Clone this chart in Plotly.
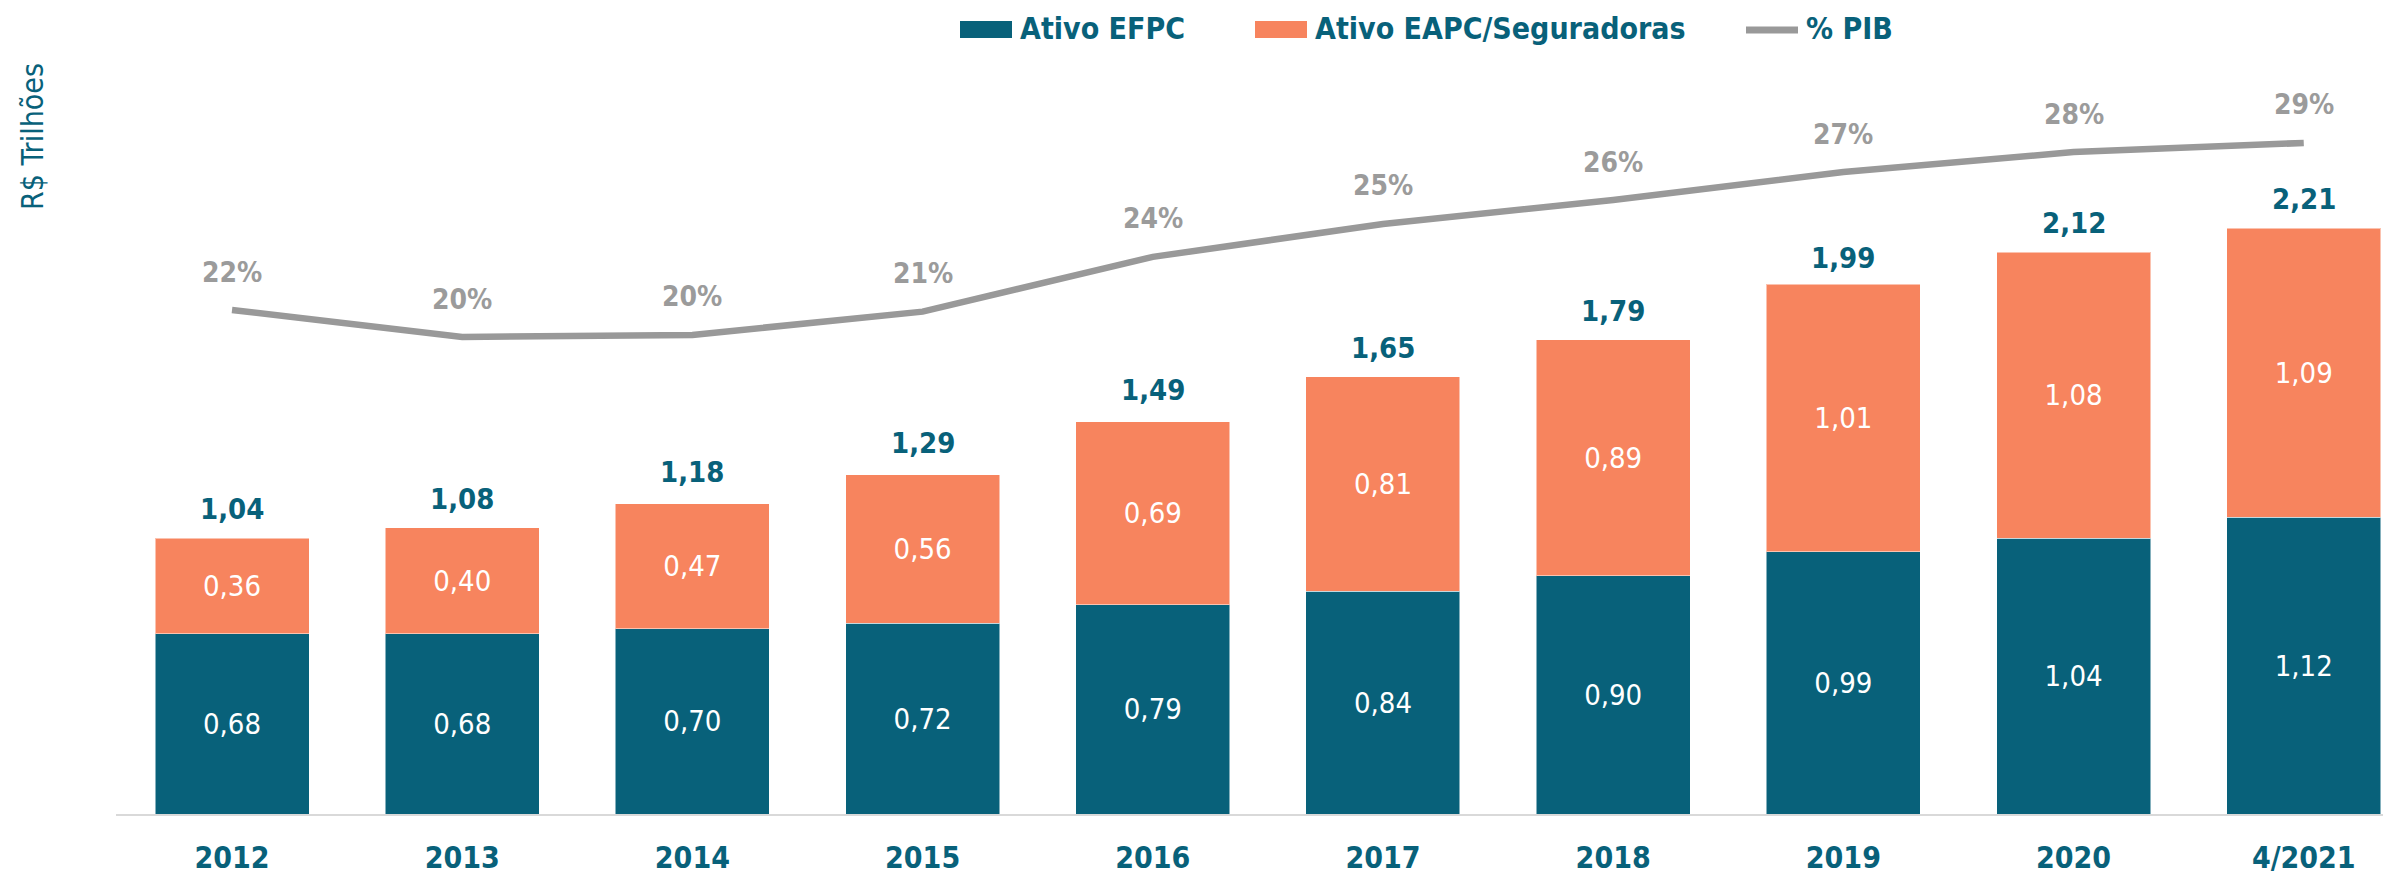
import plotly.graph_objects as go

# ---------------- data ----------------
categories = ["2012", "2013", "2014", "2015", "2016", "2017", "2018", "2019", "2020", "4/2021"]
ativo_efpc = [0.68, 0.68, 0.70, 0.72, 0.79, 0.84, 0.90, 0.99, 1.04, 1.12]
ativo_eapc = [0.36, 0.40, 0.47, 0.56, 0.69, 0.81, 0.89, 1.01, 1.08, 1.09]
totais = [1.04, 1.08, 1.18, 1.29, 1.49, 1.65, 1.79, 1.99, 2.12, 2.21]
pct_pib = [21.53, 20.38, 20.47, 21.46, 23.79, 25.19, 26.21, 27.40, 28.25, 28.64]

# ---------------- style ----------------
OFF = 8  # page body margin
W, H = 2391 - OFF, 874 - OFF
ML, MR, MT, MB = 116 - OFF, 0, 80 - OFF, 60
PW, PH = W - ML - MR, H - MT - MB
TEAL = "#08617A"
ORANGE = "#F7845E"
GREY = "#999999"
FONT = "DejaVu Sans Condensed, DejaVu Sans, sans-serif"


def fmt(v):
    return f"{v:.2f}".replace(".", ",")


def px2x(px):
    return (px - OFF - ML) / PW


def py2y(py):
    return (H - MB - (py - OFF)) / PH


fig = go.Figure()
fig.add_trace(go.Bar(
    x=categories, y=ativo_efpc, name="Ativo EFPC",
    marker=dict(color=TEAL, line=dict(width=1, color="rgba(255,255,255,0.5)")),
    text=[fmt(v) for v in ativo_efpc], textposition="inside",
    insidetextanchor="middle", textangle=0,
    textfont=dict(family=FONT, size=29, color="white"),
))
fig.add_trace(go.Bar(
    x=categories, y=ativo_eapc, name="Ativo EAPC/Seguradoras",
    marker=dict(color=ORANGE, line=dict(width=1, color="rgba(255,255,255,0.5)")),
    text=[fmt(v) for v in ativo_eapc], textposition="inside",
    insidetextanchor="middle", textangle=0,
    textfont=dict(family=FONT, size=29, color="white"),
))
fig.add_trace(go.Scatter(
    x=categories, y=pct_pib, name="% PIB", yaxis="y2", mode="lines",
    line=dict(color=GREY, width=6.5),
))

annotations = []
for i, t in enumerate(totais):
    annotations.append(dict(
        x=i, y=t, xref="x", yref="y", text=f"<b>{fmt(t)}</b>", showarrow=False,
        yanchor="middle", yshift=29,
        font=dict(family=FONT, size=29, color=TEAL),
    ))
for i, p in enumerate(pct_pib):
    annotations.append(dict(
        x=i, y=p, xref="x", yref="y2", text=f"<b>{round(p)}%</b>", showarrow=False,
        yanchor="middle", yshift=38,
        font=dict(family=FONT, size=28, color="#9B9B9B"),
    ))

# axis title
annotations.append(dict(
    x=0, y=py2y(137), xref="paper", yref="paper", xshift=32 - 116,
    text="R$ Trilhões", textangle=-90, showarrow=False,
    xanchor="center", yanchor="middle",
    font=dict(family=FONT, size=30, color=TEAL),
))

shapes = []
# manual legend (screen pixel positions)
legend_items = [
    ("Ativo EFPC", "rect", TEAL, 960, 1012, 1018),
    ("Ativo EAPC/Seguradoras", "rect", ORANGE, 1255, 1307, 1313),
    ("% PIB", "line", GREY, 1746, 1798, 1804),
]
for label, kind, col, x0, x1, tx in legend_items:
    if kind == "rect":
        shapes.append(dict(type="rect", xref="paper", yref="paper",
                           x0=px2x(x0), x1=px2x(x1), y0=py2y(38), y1=py2y(21),
                           fillcolor=col, line=dict(width=0)))
    else:
        shapes.append(dict(type="line", xref="paper", yref="paper",
                           x0=px2x(x0), x1=px2x(x1), y0=py2y(30), y1=py2y(30),
                           line=dict(color=col, width=7)))
    annotations.append(dict(
        x=px2x(tx), y=py2y(29), xref="paper", yref="paper", text=f"<b>{label}</b>",
        showarrow=False, xanchor="left", yanchor="middle",
        font=dict(family=FONT, size=30, color=TEAL),
    ))

# secondary-axis scale: 21.53 % sits at screen y=310, 23.5 px per point
Y2_REF, Y2_PX, Y2_K = 21.53, 310 - OFF, 23.5
y2_range = [Y2_REF - (H - MB - Y2_PX) / Y2_K, Y2_REF + (Y2_PX - MT) / Y2_K]

fig.update_layout(
    width=W, height=H,
    margin=dict(l=ML, r=MR, t=MT, b=MB, autoexpand=False),
    paper_bgcolor="white", plot_bgcolor="rgba(0,0,0,0)",
    barmode="stack", bargap=0.331,
    showlegend=False,
    xaxis=dict(type="category", range=[-0.504, 9.379], showline=True,
               linecolor="#D9D9D9", linewidth=2, ticks="", showgrid=False,
               automargin=False, ticklabelstandoff=16,
               tickfont=dict(family=FONT, size=30, color=TEAL, weight="bold")),
    yaxis=dict(range=[0, PH / 265.0], visible=False, showgrid=False,
               zeroline=False, automargin=False),
    yaxis2=dict(range=y2_range, overlaying="y", visible=False, showgrid=False,
                zeroline=False, automargin=False),
    annotations=annotations,
    shapes=shapes,
)

fig.write_html("out.html")
